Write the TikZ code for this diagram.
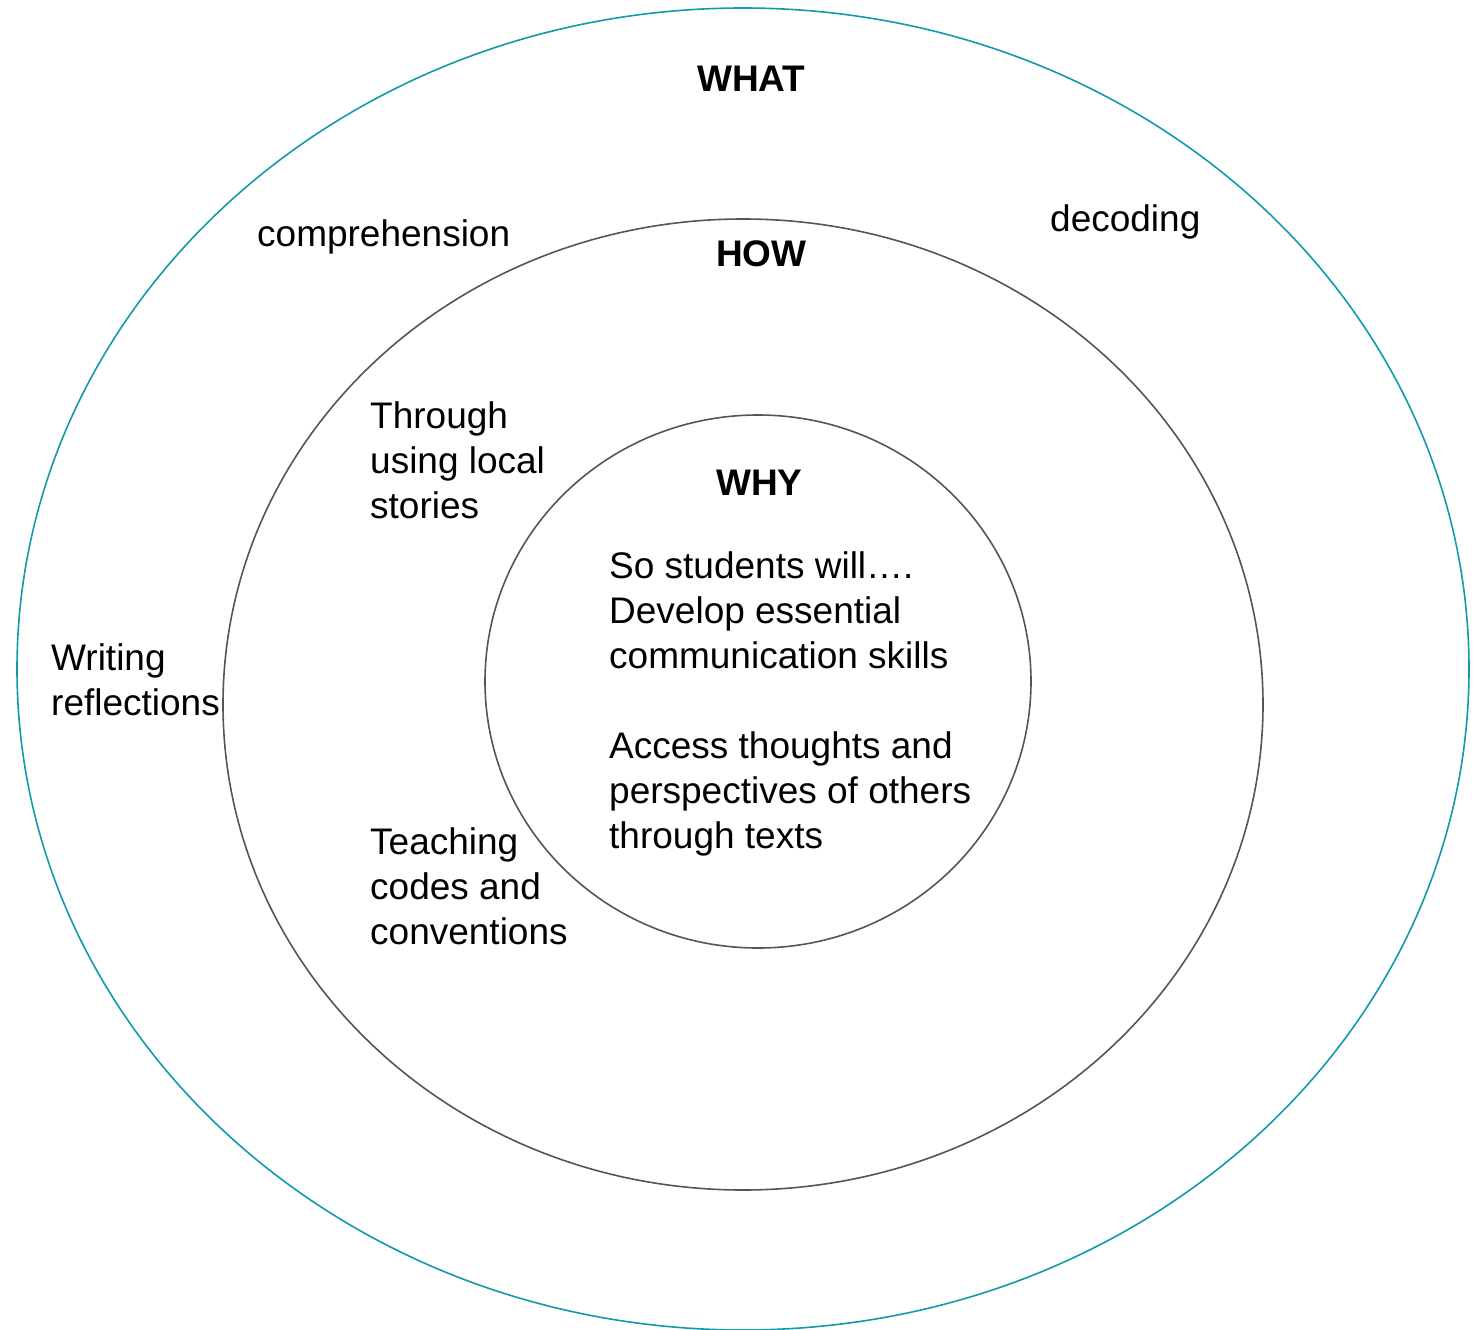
\documentclass[tikz,border=0pt]{standalone}
\usepackage{fontspec}
\setmainfont{Liberation Sans}
\definecolor{tealring}{RGB}{18,154,170}
\definecolor{grayring}{RGB}{85,85,85}
\begin{document}
\begin{tikzpicture}[x=1pt,y=-1pt,
  ringouter/.style={draw=tealring,line width=1.6pt},
  ringinner/.style={draw=grayring,line width=1.6pt},
  lbl/.style={anchor=north west,yshift=31.5pt,inner sep=0pt,align=left,
    font=\fontsize{37}{45}\selectfont,execute at begin node=\strut},
  head/.style={lbl,font=\fontsize{37}{45}\selectfont\bfseries}]
\useasboundingbox (0,0) rectangle (1476,1330);
\draw[ringouter] (743,669) ellipse [x radius=726pt,y radius=661pt];
\draw[ringinner] (743,704.5) ellipse [x radius=520pt,y radius=485.5pt];
\draw[ringinner] (758,681.5) ellipse [x radius=273pt,y radius=266.5pt];
\node[head] (what) at (697,91) {WHAT};
\node[head] (how) at (716,266) {HOW};
\node[head] (why) at (716,495) {WHY};
\node[lbl] (comp) at (257,246) {comprehension};
\node[lbl] (dec) at (1050,231) {decoding};
\node[lbl] (write) at (51,675) {Writing\\reflections};
\node[lbl] (local) at (370,433) {Through\\using local\\stories};
\node[lbl] (teach) at (370,859) {Teaching\\codes and\\conventions};
\node[lbl] (sowill) at (609,583) {So students will….\\Develop essential\\communication skills\\[45pt]Access thoughts and\\perspectives of others\\through texts};
\end{tikzpicture}
\end{document}
